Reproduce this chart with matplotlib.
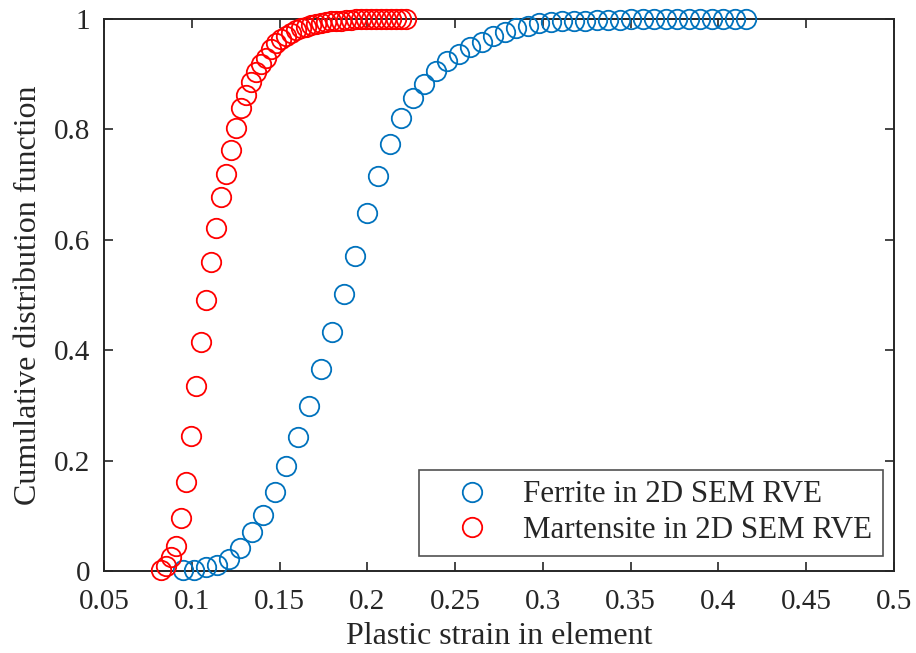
import numpy as np
import matplotlib.pyplot as plt

# plastic strain (x) and CDF (y)
ferrite_strain = [0.0949, 0.1014, 0.1080, 0.1145, 0.1211, 0.1276, 0.1342, 0.1407,
                  0.1473, 0.1538, 0.1604, 0.1669, 0.1735, 0.1800, 0.1866, 0.1931,
                  0.1997, 0.2062, 0.2128, 0.2193, 0.2259, 0.2324, 0.2390, 0.2455,
                  0.2521, 0.2586, 0.2652, 0.2717, 0.2783, 0.2848, 0.2914, 0.2979,
                  0.3045, 0.3110, 0.3176, 0.3241, 0.3307, 0.3372, 0.3438, 0.3503,
                  0.3569, 0.3634, 0.3700, 0.3765, 0.3831, 0.3896, 0.3962, 0.4027,
                  0.4093, 0.4158]
ferrite_cdf = [0.001, 0.002, 0.007, 0.010, 0.021, 0.042, 0.071, 0.102,
               0.143, 0.191, 0.242, 0.299, 0.365, 0.433, 0.502, 0.571,
               0.648, 0.716, 0.773, 0.820, 0.857, 0.883, 0.905, 0.923,
               0.937, 0.949, 0.959, 0.969, 0.976, 0.983, 0.987, 0.992,
               0.995, 0.996, 0.997, 0.997, 0.998, 0.998, 0.998, 0.999,
               0.999, 0.999, 0.999, 0.999, 1.000, 1.000, 1.000, 1.000,
               1.000, 1.000]

martensite_strain = [0.0823, 0.0852, 0.0880, 0.0909, 0.0937, 0.0966, 0.0994, 0.1023,
                     0.1051, 0.1080, 0.1108, 0.1137, 0.1166, 0.1194, 0.1223, 0.1251,
                     0.1280, 0.1308, 0.1337, 0.1365, 0.1394, 0.1422, 0.1451, 0.1479,
                     0.1508, 0.1536, 0.1565, 0.1594, 0.1622, 0.1651, 0.1679, 0.1708,
                     0.1736, 0.1765, 0.1793, 0.1822, 0.1850, 0.1879, 0.1907, 0.1936,
                     0.1964, 0.1993, 0.2022, 0.2050, 0.2079, 0.2107, 0.2136, 0.2164,
                     0.2193, 0.2222]
martensite_cdf = [0.002, 0.009, 0.025, 0.046, 0.096, 0.161, 0.245, 0.335,
                  0.415, 0.491, 0.559, 0.621, 0.677, 0.719, 0.763, 0.803,
                  0.839, 0.862, 0.885, 0.904, 0.918, 0.930, 0.946, 0.957,
                  0.963, 0.969, 0.975, 0.980, 0.983, 0.986, 0.989, 0.990,
                  0.993, 0.995, 0.996, 0.997, 0.997, 0.998, 0.998, 0.999,
                  0.999, 0.999, 0.999, 1.000, 1.000, 1.000, 1.000, 1.000,
                  1.000, 1.000]

xticks = [0.05, 0.1, 0.15, 0.2, 0.25, 0.3, 0.35, 0.4, 0.45, 0.5]
yticks = [0, 0.2, 0.4, 0.6, 0.8, 1]

plt.rcParams['font.family'] = ['Liberation Serif', 'DejaVu Serif']
dark = '#262626'

fig = plt.figure(figsize=(9.16, 6.53), dpi=100)
ax = fig.add_axes([0.1135, 0.1256, 0.8625, 0.8454])

ax.plot(ferrite_strain, ferrite_cdf, 'o', mfc='none', mec='#0072BD', ms=14, mew=1.3,
        label='Ferrite in 2D SEM RVE', clip_on=False, zorder=3)
ax.plot(martensite_strain, martensite_cdf, 'o', mfc='none', mec='#FF0000', ms=14, mew=1.3,
        label='Martensite in 2D SEM RVE', clip_on=False, zorder=3)

ax.set_xlim(0.05, 0.5)
ax.set_ylim(0, 1)
ax.set_xticks(xticks)
ax.set_xticklabels([('%g' % v) for v in xticks])
ax.set_yticks(yticks)
ax.set_yticklabels([('%g' % v) for v in yticks])

ax.tick_params(direction='in', length=6.5, width=1.2, colors=dark, labelsize=21,
               top=True, right=True)
ax.tick_params(axis='x', pad=13)
ax.tick_params(axis='y', pad=10)
for s in ax.spines.values():
    s.set_color(dark)
    s.set_linewidth(1.4)

ax.set_xlabel('Plastic strain in element', fontsize=23, color=dark, labelpad=5)
ax.set_ylabel('Cumulative distribution function', fontsize=23, color=dark, labelpad=8)

leg = ax.legend(loc='lower right', bbox_to_anchor=(0.986, 0.027), borderaxespad=0,
                fontsize=22.3, fancybox=False, frameon=True, handletextpad=0.3,
                borderpad=0.35, labelspacing=0.22, handlelength=2.7)
leg.get_frame().set_edgecolor(dark)
leg.get_frame().set_linewidth(1.2)
for t in leg.get_texts():
    t.set_color(dark)

fig.savefig('out.png', dpi=100)
